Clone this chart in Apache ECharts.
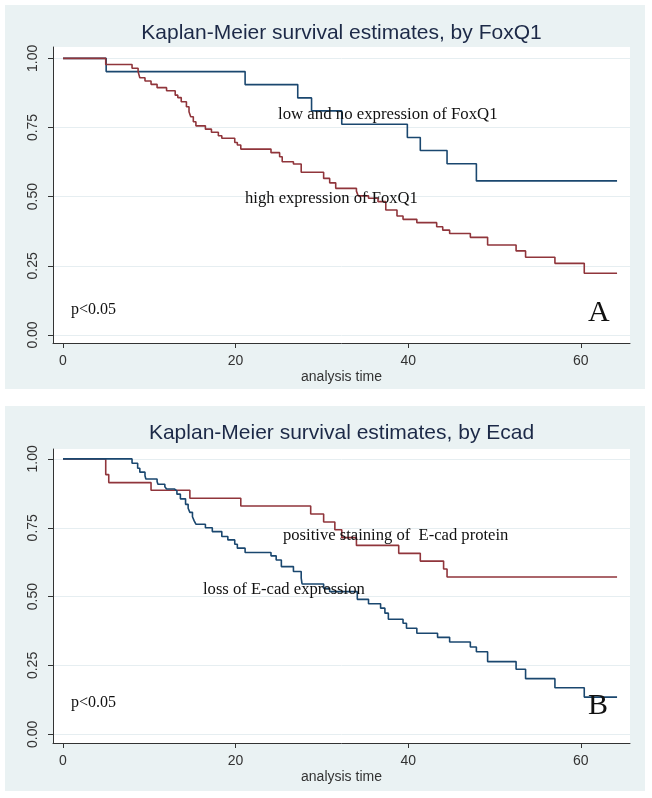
<!DOCTYPE html>
<html>
<head>
<meta charset="utf-8">
<script src="https://cdn.jsdelivr.net/npm/echarts@6/dist/echarts.min.js"></script>
<style>
html,body{margin:0;padding:0;background:#fff;}
#chart{width:652px;height:798px;}
</style>
</head>
<body>
<div id="chart"></div>
<script>
// ---------- DATA ----------
const xTicks = [0, 20, 40, 60];
const yTicks = [0, 0.25, 0.5, 0.75, 1];

// Panel A: by FoxQ1
const lowFoxTime = [0, 5.0, 21.1, 27.2, 28.8, 32.3, 39.9, 41.4, 44.5, 47.9, 64.2];
const lowFoxSurv = [1, 0.952, 0.905, 0.857, 0.810, 0.762, 0.714, 0.667, 0.619, 0.557, 0.557];

const highFoxTime = [0, 4.95, 8.0, 8.7, 8.9, 9.5, 10.2, 10.9, 12.0, 13.0, 13.3, 13.7, 14.3, 14.6, 14.8, 15.1, 15.4,
  16.5, 17.2, 18.0, 18.4, 19.9, 20.2, 20.6, 24.1, 25.1, 25.4, 26.7, 27.6, 30.2, 30.9, 31.6, 34.0, 34.2, 35.4,
  36.5, 37.4, 38.7, 39.4, 41.0, 43.3, 44.0, 44.8, 47.2, 49.2, 52.5, 53.6, 57.0, 60.4, 64.2];
const highFoxSurv = [1, 0.978, 0.964, 0.952, 0.930, 0.918, 0.906, 0.894, 0.883, 0.867, 0.858, 0.843, 0.825, 0.807, 0.789, 0.771, 0.756,
  0.744, 0.733, 0.720, 0.711, 0.696, 0.687, 0.672, 0.659, 0.644, 0.626, 0.618, 0.588, 0.566, 0.550, 0.530, 0.520, 0.503, 0.494,
  0.482, 0.452, 0.430, 0.418, 0.406, 0.391, 0.379, 0.367, 0.353, 0.325, 0.304, 0.281, 0.259, 0.223, 0.223];

// Panel B: by Ecad
const posEcadTime = [0, 4.95, 5.3, 10.2, 14.7, 20.6, 28.7, 30.2, 31.5, 32.3, 34.0, 38.9, 41.4, 44.1, 44.5, 64.2];
const posEcadSurv = [1, 0.943, 0.914, 0.886, 0.857, 0.829, 0.800, 0.771, 0.743, 0.714, 0.686, 0.657, 0.629, 0.600, 0.571, 0.571];

const lossEcadTime = [0, 8.0, 8.65, 8.9, 9.5, 9.6, 10.9, 11.0, 11.8, 12.0, 12.9, 13.2, 13.6, 14.2, 14.5, 14.7, 15.0, 15.2, 15.4,
  16.5, 17.3, 18.4, 19.1, 19.9, 20.2, 21.1, 24.1, 24.7, 25.3, 26.7, 27.6, 27.7, 30.2, 30.9, 34.1, 35.4, 36.8, 37.3, 37.7,
  39.4, 39.8, 41.0, 43.4, 44.8, 47.2, 47.9, 49.2, 52.5, 53.6, 57.0, 60.4, 64.2];
const lossEcadSurv = [1, 0.984, 0.966, 0.952, 0.939, 0.927, 0.918, 0.908, 0.899, 0.891, 0.884, 0.872, 0.855, 0.835, 0.821, 0.806, 0.790, 0.775, 0.763,
  0.750, 0.736, 0.718, 0.706, 0.690, 0.676, 0.660, 0.648, 0.633, 0.609, 0.591, 0.567, 0.546, 0.530, 0.518, 0.490, 0.474, 0.458, 0.440, 0.418,
  0.403, 0.385, 0.367, 0.352, 0.335, 0.317, 0.300, 0.264, 0.236, 0.202, 0.169, 0.135, 0.135];

const titles = ['Kaplan-Meier survival estimates, by FoxQ1', 'Kaplan-Meier survival estimates, by Ecad'];
const xAxisName = 'analysis time';

// ---------- STYLE ----------
const BLUE = '#1a476f';
const RED = '#90353b';
const FRAME = '#eaf2f3';
const GRIDC = '#e6eef1';
const AXISC = '#333333';
const SANS = '"Liberation Sans", Arial, sans-serif';
const SERIF = '"Liberation Serif", "Times New Roman", serif';

const zip = (t, s) => t.map((v, i) => [v, s[i]]);

function makeX(gi) {
  return {
    gridIndex: gi, type: 'value', min: -1.16, max: 65.7,
    axisLine: { show: true, onZero: false, lineStyle: { color: AXISC, width: 1 } },
    axisTick: { show: true, customValues: xTicks, length: 5, lineStyle: { color: AXISC } },
    axisLabel: { customValues: xTicks, fontSize: 14, color: AXISC, fontFamily: SANS, margin: 11 },
    splitLine: { show: false },
    name: xAxisName, nameLocation: 'middle', nameGap: 27,
    nameTextStyle: { fontSize: 14, color: AXISC, fontFamily: SANS }
  };
}
function makeY(gi, mn, mx) {
  return {
    gridIndex: gi, type: 'value', min: mn, max: mx,
    axisLine: { show: true, onZero: false, lineStyle: { color: AXISC, width: 1 } },
    axisTick: { show: true, customValues: yTicks, length: 5, lineStyle: { color: AXISC } },
    axisLabel: { customValues: yTicks, rotate: 90, fontSize: 14, color: AXISC, fontFamily: SANS, margin: 13,
      formatter: v => Number(v).toFixed(2) },
    splitLine: { show: true, lineStyle: { color: GRIDC, width: 1 } }
  };
}
function stepSeries(gi, data, color) {
  return {
    type: 'line', xAxisIndex: gi, yAxisIndex: gi, data: data, step: 'end',
    showSymbol: false, symbol: 'none', lineStyle: { color: color, width: 1.6 }, silent: true
  };
}
function txt(x, y, text, font, align, vAlign, fill) {
  return { type: 'text', x: x, y: y, z: 100,
    style: { text: text, font: font, fill: fill || '#111', textAlign: align || 'left', textVerticalAlign: vAlign || 'bottom' } };
}

const chart = echarts.init(document.getElementById('chart'), null, { renderer: 'canvas' });
chart.setOption({
  backgroundColor: '#ffffff',
  animation: false,
  grid: [
    { left: 53, right: 22, top: 47, height: 296, show: true, backgroundColor: '#ffffff', borderWidth: 0 },
    { left: 53, right: 22, top: 449, height: 294, show: true, backgroundColor: '#ffffff', borderWidth: 0 }
  ],
  xAxis: [makeX(0), makeX(1)],
  yAxis: [makeY(0, -0.029, 1.041), makeY(1, -0.0316, 1.036)],
  series: [
    stepSeries(0, zip(lowFoxTime, lowFoxSurv), BLUE),
    stepSeries(0, zip(highFoxTime, highFoxSurv), RED),
    stepSeries(1, zip(posEcadTime, posEcadSurv), RED),
    stepSeries(1, zip(lossEcadTime, lossEcadSurv), BLUE)
  ],
  graphic: [
    { type: 'rect', z: -10, shape: { x: 5, y: 5, width: 640, height: 384 }, style: { fill: FRAME } },
    { type: 'rect', z: -10, shape: { x: 5, y: 406, width: 640, height: 385 }, style: { fill: FRAME } },
    txt(341.5, 33, titles[0], '21px ' + SANS, 'center', 'middle', '#1c2947'),
    txt(341.5, 433, titles[1], '21px ' + SANS, 'center', 'middle', '#1c2947'),
    txt(278, 123, 'low and no expression of FoxQ1', '16.8px ' + SERIF),
    txt(245, 207, 'high expression of FoxQ1', '16.6px ' + SERIF),
    txt(71, 318, 'p<0.05', '16px ' + SERIF),
    txt(588, 328, 'A', '30px ' + SERIF),
    txt(283, 544, 'positive staining of  E-cad protein', '16.6px ' + SERIF),
    txt(203, 598, 'loss of E-cad expression', '16.6px ' + SERIF),
    txt(71, 711, 'p<0.05', '16px ' + SERIF),
    txt(588, 721, 'B', '30px ' + SERIF)
  ]
});
</script>
</body>
</html>
